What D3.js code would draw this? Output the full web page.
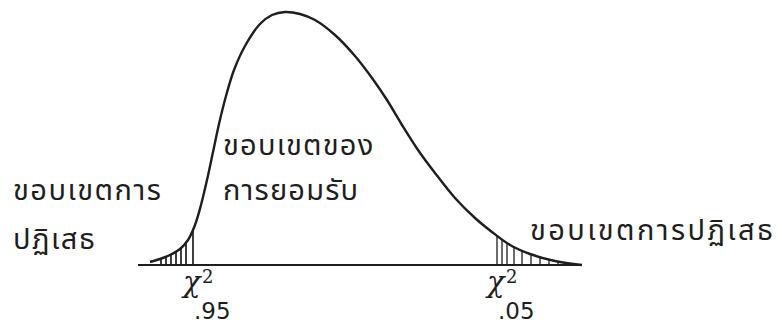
<!DOCTYPE html>
<html><head><meta charset="utf-8">
<script src="https://cdn.jsdelivr.net/npm/d3@7"></script>
<style>
html,body{margin:0;padding:0;background:#fff;}
svg{display:block;}
.th{font-family:"Noto Sans Thai","Loma","Garuda","Norasi","Noto Sans",sans-serif;fill:#1e1e1e;}
.sym{font-family:"DejaVu Serif","Liberation Serif",serif;fill:#1e1e1e;}
.num{font-family:"DejaVu Sans","Liberation Sans",sans-serif;fill:#1e1e1e;}
</style></head>
<body><svg id="c" width="782" height="327"></svg>
<script>
// density curve (arbitrary units)
const curveX = [1.2,2.2,3.2,4.2,5.0,5.7,6.3,6.9,7.5,8.1,8.8,9.6,10.7,12.2,13.4,14.7,16.2,17.7,19.7,21.7,23.4,24.9,26.4,28.0,29.7,31.7,33.7,35.4,37.2,39.2,41.7,44.4];
const curveY = [0.3,0.6,1.0,1.6,2.5,4.0,6.0,8.5,11.3,14.1,16.9,19.5,21.9,24.1,25.0,25.3,25.1,24.5,23.0,20.9,18.7,16.5,14.0,11.5,9.2,6.7,4.7,3.3,2.0,1.1,0.4,0.0];
const critLow = 5.5;   // chi-square .95
const critHigh = 35.9; // chi-square .05
const leftHatch = [2.3,2.8,3.3,3.8,4.3,4.8,5.5];
const rightHatch = [35.9,36.4,36.9,37.6,38.4,39.3,40.2,41.1,42.0,42.9];
const labelLeft = ["ขอบเขตการ","ปฏิเสธ"];
const labelMid = ["ขอบเขตของ","การยอมรับ"];
const labelRight = ["ขอบเขตการปฏิเสธ"];
const critLabels = [".95",".05"];

const svg = d3.select("#c");
const x = d3.scaleLinear().domain([0,44.4]).range([138,582]);
const y = d3.scaleLinear().domain([0,25.3]).range([265,12]);
const pts = curveX.map((v,i)=>[v,curveY[i]]);
const interp = xv => {
  for(let i=0;i<curveX.length-1;i++){
    if(xv>=curveX[i] && xv<=curveX[i+1]){
      const t=(xv-curveX[i])/(curveX[i+1]-curveX[i]);
      return curveY[i]+t*(curveY[i+1]-curveY[i]);
    }
  }
  return 0;
};
const ink = "#1e1e1e";

// axis line
svg.append("line").attr("x1",x(0)).attr("x2",x(44.4)).attr("y1",y(0)).attr("y2",y(0))
  .attr("stroke",ink).attr("stroke-width",2);

// curve
svg.append("path").datum(pts)
  .attr("d",d3.line().x(d=>x(d[0])).y(d=>y(d[1])).curve(d3.curveCatmullRom.alpha(0.5)))
  .attr("fill","none").attr("stroke",ink).attr("stroke-width",2.4);

// hatching
svg.selectAll("line.hl").data(leftHatch).join("line").attr("class","hl")
  .attr("x1",d=>x(d)).attr("x2",d=>x(d)).attr("y1",y(0)).attr("y2",d=>y(interp(d)))
  .attr("stroke",ink).attr("stroke-width",1.7);
svg.selectAll("line.hr").data(rightHatch).join("line").attr("class","hr")
  .attr("x1",d=>x(d)).attr("x2",d=>x(d)).attr("y1",y(0)).attr("y2",d=>y(interp(d)))
  .attr("stroke",ink).attr("stroke-width",1.3);

// Thai labels
function lines(arr, x0, y0, dy, size, ls){
  const t = svg.append("text").attr("class","th").attr("font-size",size).attr("letter-spacing",ls);
  arr.forEach((s,i)=>t.append("tspan").attr("x",x0).attr("y",y0+i*dy).text(s));
}
lines(labelLeft, 13, 200, 49, 29, 1.5);
lines(labelMid, 223, 155, 45, 29, 1.2);
lines(labelRight, 530, 240, 0, 29, 2.4);

// chi-square labels
function chi(cx, idx){
  const px = x(cx);
  svg.append("text").attr("class","sym").attr("font-style","italic").attr("font-size",29)
    .attr("x",px-10).attr("y",292).text("χ");
  svg.append("text").attr("class","sym").attr("font-size",18)
    .attr("x",px+9).attr("y",283).text("2");
  svg.append("text").attr("class","num").attr("font-size",23)
    .attr("x",px+1).attr("y",319).text(critLabels[idx]);
}
chi(critLow,0);
chi(critHigh,1);
</script></body></html>
